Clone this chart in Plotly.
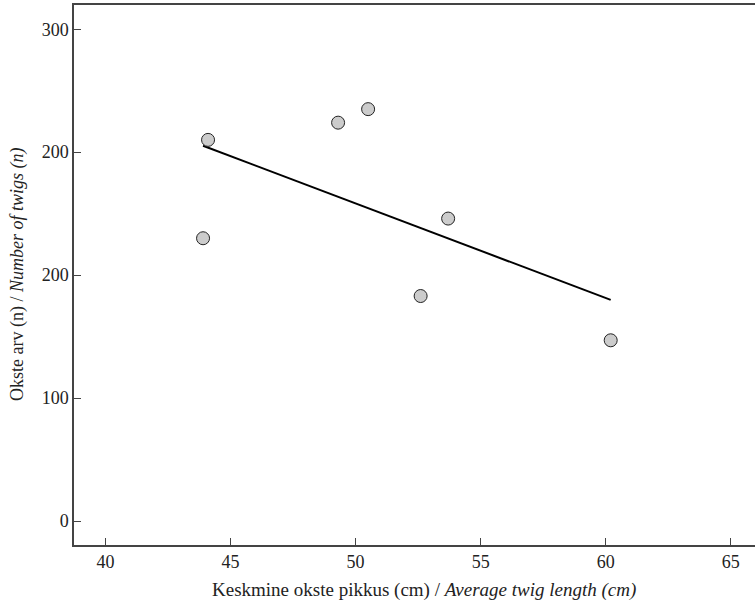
import numpy as np
import plotly.graph_objects as go

# Data
twig_length = [43.9, 44.1, 49.3, 50.5, 53.7, 52.6, 60.2]
twig_count = [230, 310, 324, 335, 246, 183, 147]

x_tickvals = [40, 45, 50, 55, 60, 65]
y_tickvals = [0, 100, 200, 300, 400]
y_ticktext = ["0", "100", "200", "200", "300"]

x_title = "Keskmine okste pikkus (cm) / <i>Average twig length (cm)</i>"
y_title = "Okste arv (n) / <i>Number of twigs (n)</i>"

# Least-squares regression line across the data range
slope, intercept = np.polyfit(twig_length, twig_count, 1)
fit_x = [min(twig_length), max(twig_length)]
fit_y = [slope * v + intercept for v in fit_x]

FONT = "Liberation Serif"
AX = "#444444"
TXT = "#222222"

fig = go.Figure()
fig.add_trace(go.Scatter(
    x=fit_x, y=fit_y, mode="lines",
    line=dict(color="black", width=2),
    showlegend=False, hoverinfo="skip",
))
fig.add_trace(go.Scatter(
    x=twig_length, y=twig_count, mode="markers",
    marker=dict(size=13, color="#cccccc", line=dict(color="#222222", width=1)),
    showlegend=False,
))

fig.update_layout(
    width=755, height=605,
    margin=dict(l=74, r=0, t=5, b=60),
    paper_bgcolor="white", plot_bgcolor="white",
    font=dict(family=FONT, size=18, color=TXT),
    xaxis=dict(
        range=[38.74, 65.97], tickvals=x_tickvals,
        showgrid=False, zeroline=False,
        showline=True, linecolor=AX, linewidth=1.5, mirror=True,
        ticks="inside", ticklen=7, tickcolor=AX, tickwidth=1,
        tickfont=dict(family=FONT, size=18, color=TXT),
    ),
    yaxis=dict(
        range=[-19.5, 419.7], tickvals=y_tickvals, ticktext=y_ticktext,
        showgrid=False, zeroline=False,
        showline=True, linecolor=AX, linewidth=1.5,
        ticks="inside", ticklen=7, tickcolor=AX, tickwidth=1,
        tickfont=dict(family=FONT, size=18, color=TXT),
    ),
    annotations=[
        dict(text=x_title, xref="paper", yref="paper", x=(424 - 74) / 681, y=-45 / 540,
             xanchor="center", yanchor="middle", showarrow=False,
             font=dict(family=FONT, size=19, color=TXT)),
        dict(text=y_title, xref="paper", yref="paper", x=-(74 - 17) / 681, y=0.5,
             xanchor="center", yanchor="middle", textangle=-90, showarrow=False,
             font=dict(family=FONT, size=18, color=TXT)),
    ],
)

fig.write_html("out.html", config={"displayModeBar": False},
               post_script="document.body.style.margin='0';")
